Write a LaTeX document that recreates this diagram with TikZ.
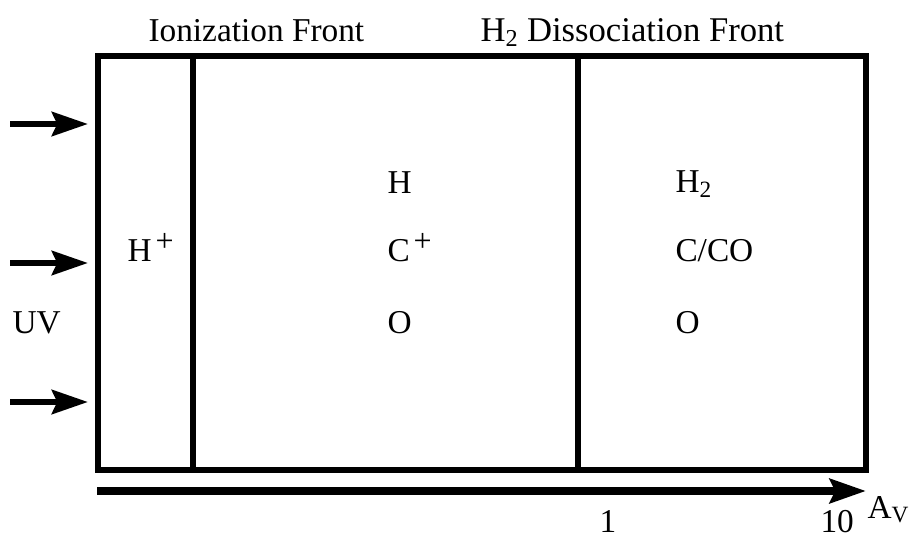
\documentclass[tikz,border=0pt]{standalone}
\usepackage{fontspec}
\setmainfont{Liberation Serif}
\usetikzlibrary{arrows.meta}

\newcommand{\ionplus}{\hspace{3pt}\raisebox{7.5pt}{\fontsize{24}{24}\selectfont +}}

\tikzset{every picture/.style={line width=0.75pt}}
\tikzset{
  fatarrow/.style={line width=5pt, -{Stealth[length=27pt, width=18pt, inset=4pt]}},
  frontline/.style={line width=4pt},
  lbl/.style={anchor=base west, inner sep=0pt, font=\fontsize{25}{30}\selectfont},
}

\begin{document}
\begin{tikzpicture}[x=0.75pt,y=0.75pt,yscale=-1,xscale=1]
\useasboundingbox (0,0) rectangle (913,538);

%Shape: Rectangle [cloud slab]
\draw [frontline] (98,56) rectangle (866,470);
%Straight Lines [ionization front]
\draw [frontline] (193,56) -- (193,470);
%Straight Lines [dissociation front]
\draw [frontline] (578,56) -- (578,470);

%Arrows [incoming UV]
\coordinate (uvtopS) at (10,124);  \coordinate (uvtopE) at (88,124);
\coordinate (uvmidS) at (10,263);  \coordinate (uvmidE) at (88,263);
\coordinate (uvbotS) at (10,402);  \coordinate (uvbotE) at (88,402);
\draw [fatarrow] (uvtopS) -- (uvtopE);
\draw [fatarrow] (uvmidS) -- (uvmidE);
\draw [fatarrow] (uvbotS) -- (uvbotE);

%Arrow [extinction axis]
\coordinate (avS) at (97,491); \coordinate (avE) at (866,491);
\draw [fatarrow, line width=6pt] (avS) -- (avE);

% Text Node
\draw (148,42) node (ionfront) [lbl] {Ionization Front};
% Text Node
\draw (480,42) node (dissfront) [lbl, font=\fontsize{26}{30}\selectfont] {H\textsubscript{2} Dissociation Front};
% Text Node
\draw (127,262) node (hplus) [lbl] {H\ionplus};
% Text Node
\draw (387,194) node (hatom) [lbl] {H};
% Text Node
\draw (387,262) node (cplus) [lbl] {C\ionplus};
% Text Node
\draw (387,333) node (oatom) [lbl] {O};
% Text Node
\draw (675,193) node (htwo) [lbl] {H\textsubscript{2}};
% Text Node
\draw (675,262) node (cco) [lbl] {C/CO};
% Text Node
\draw (675,333) node (omol) [lbl] {O};
% Text Node
\draw (12,333) node (uv) [lbl] {UV};
% Text Node
\draw (599,532) node (avone) [lbl] {1};
% Text Node
\draw (820,532) node (avten) [lbl] {10};
% Text Node
\draw (867,518) node (avlabel) [lbl] {A\textsubscript{V}};

\end{tikzpicture}
\end{document}
